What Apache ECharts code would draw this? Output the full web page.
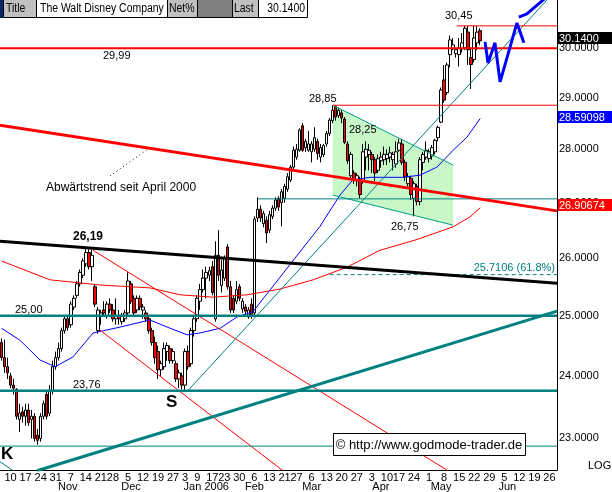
<!DOCTYPE html>
<html>
<head>
<meta charset="utf-8">
<title>The Walt Disney Company</title>
<script src="https://cdn.jsdelivr.net/npm/echarts@6/dist/echarts.min.js"></script>
<style>
html,body{margin:0;padding:0;background:#ffffff;}
#chart{width:612px;height:492px;}
</style>
</head>
<body>
<div id="chart"></div>
<script>
// ---------- categories: trading days ----------
const firstDay = '2005-10-05';
const lastDay = '2006-06-28';
const holidays = ['2005-11-24','2005-12-26','2006-01-02','2006-01-16','2006-02-20','2006-04-14'];

// ---------- candles (OHLC) ----------
const opens = [24.55,24.30,24.15,24.00,23.85,23.78,23.30,23.42,23.35,23.45,23.30,23.35,23.05,23.00,23.35,23.70,23.40,23.75,24.15,24.30,
24.45,24.75,24.95,24.85,25.15,25.35,25.55,25.70,25.90,26.10,25.85,25.50,24.75,25.00,25.10,25.00,25.20,25.10,24.95,25.00,
24.90,24.95,25.05,25.55,25.30,25.10,25.30,25.10,25.05,24.95,24.75,24.55,24.40,24.10,24.15,24.40,24.45,24.25,24.20,23.95,
24.00,23.85,24.40,24.20,24.75,24.95,25.25,25.45,25.65,25.70,25.85,24.95,26.05,25.52,25.65,26.20,25.50,25.30,25.25,25.50,
25.12,25.15,24.98,25.20,25.05,26.72,26.88,26.62,26.68,26.50,26.75,26.90,27.08,27.00,27.08,27.25,27.42,27.66,27.85,27.98,
28.45,28.03,27.98,27.95,28.00,28.15,27.85,27.90,28.10,28.30,28.55,28.82,28.65,28.70,28.58,28.10,27.50,27.55,27.42,27.42,
27.40,27.85,27.90,27.90,27.80,27.60,27.78,27.80,27.82,27.85,27.80,27.72,27.98,28.10,27.75,27.35,27.45,27.08,27.30,27.02,
27.75,27.85,27.82,27.87,27.95,28.22,28.52,29.35,29.10,29.86,29.98,29.88,29.86,29.98,30.00,30.32,29.80,29.76,30.10,30.35];
const highs = [24.62,24.60,24.30,24.05,23.95,23.80,23.55,23.50,23.55,23.55,23.45,23.40,23.15,23.40,23.60,23.75,23.85,24.25,24.40,24.55,
24.80,25.00,25.00,25.25,25.35,25.60,25.80,26.00,26.19,26.19,26.15,25.55,25.15,25.10,25.25,25.25,25.30,25.20,25.30,25.10,
25.05,25.10,25.75,25.60,25.35,25.35,25.35,25.20,25.10,25.00,24.80,24.65,24.50,24.25,24.55,24.55,24.50,24.45,24.25,24.10,
24.05,24.45,24.50,24.80,25.00,25.35,25.55,25.80,25.85,25.85,25.95,26.30,26.50,25.97,26.05,26.25,25.60,25.35,25.60,25.55,
25.30,25.20,25.15,25.30,26.75,27.10,26.95,26.85,26.75,26.85,26.95,27.10,27.12,27.25,27.35,27.55,27.70,28.05,28.10,28.40,
28.50,28.20,28.35,28.15,28.42,28.20,28.10,28.10,28.35,28.60,28.85,28.85,28.80,28.75,28.62,28.15,27.95,27.60,27.55,27.48,
28.10,28.15,28.10,27.95,27.85,27.90,27.95,28.05,28.00,28.05,27.95,28.15,28.20,28.20,27.80,27.55,27.50,27.40,27.35,27.85,
27.95,28.15,28.00,28.08,28.20,28.45,29.20,29.65,29.70,30.25,30.20,30.00,30.20,30.30,30.45,30.45,30.00,30.45,30.45,30.40];
const lows = [24.25,24.05,23.95,23.80,23.70,23.30,23.10,23.25,23.20,23.20,23.00,22.95,22.90,22.95,23.30,23.30,23.35,23.70,24.10,24.25,
24.40,24.70,24.75,24.80,25.10,25.30,25.50,25.65,25.85,25.80,25.60,25.15,24.70,24.85,25.00,24.95,25.05,24.90,24.85,24.85,
24.85,24.90,25.00,25.20,25.00,25.05,25.10,24.95,24.90,24.70,24.50,24.20,23.95,24.00,24.10,24.25,24.20,24.20,23.90,23.80,
23.78,23.76,24.10,24.15,24.65,24.90,25.10,25.40,25.30,25.60,25.35,24.90,25.60,25.40,25.60,25.45,25.05,25.05,25.20,25.25,
25.05,25.00,24.95,24.95,25.00,26.65,26.65,26.55,26.27,26.45,26.70,26.85,26.85,26.57,27.00,27.20,27.38,27.60,27.80,27.95,
27.95,27.95,27.95,27.75,27.95,27.80,27.75,27.85,28.05,28.25,28.50,28.55,28.60,28.50,28.10,27.72,27.45,27.35,27.30,27.08,
27.35,27.60,27.60,27.55,27.40,27.55,27.65,27.70,27.70,27.75,27.60,27.65,27.95,27.70,27.40,27.30,27.05,26.75,26.95,26.95,
27.60,27.80,27.75,27.80,27.90,28.15,28.50,28.90,29.05,29.60,29.95,29.80,29.62,29.90,29.95,29.65,29.17,29.70,29.95,30.05];
const closes = [24.30,24.15,24.05,23.85,23.80,23.35,23.40,23.35,23.45,23.25,23.35,23.00,22.97,23.35,23.55,23.35,23.75,24.15,24.30,24.45,
24.75,24.95,24.80,25.20,25.30,25.55,25.75,25.95,26.10,25.85,26.05,25.20,25.10,25.05,25.05,25.20,25.10,24.95,25.00,24.95,
25.00,25.05,25.60,25.25,25.05,25.30,25.15,25.15,24.95,24.75,24.55,24.30,24.10,24.20,24.45,24.50,24.25,24.40,23.95,24.05,
23.85,24.40,24.15,24.75,24.95,25.30,25.45,25.65,25.75,25.78,25.40,26.05,25.70,25.79,26.00,25.50,25.10,25.10,25.45,25.30,
25.25,25.08,25.10,25.00,26.70,26.88,26.72,26.80,26.45,26.78,26.90,27.05,26.92,27.20,27.30,27.48,27.66,27.98,28.00,28.37,
27.98,28.15,28.10,28.10,28.22,27.92,28.03,28.07,28.30,28.56,28.75,28.62,28.75,28.60,28.13,27.78,27.90,27.42,27.50,27.15,
27.95,28.00,27.98,27.80,27.55,27.82,27.85,27.90,27.90,27.93,27.90,27.95,28.12,27.75,27.48,27.48,27.15,27.35,27.02,27.80,
27.90,27.98,27.95,28.03,28.17,28.42,29.15,28.95,29.65,30.16,30.06,29.96,30.00,30.10,30.40,29.96,29.66,30.20,30.32,30.14];

// ---------- axis tick labels ----------
const yTicks = [23, 24, 25, 26, 27, 28, 29, 30];
const monthLabels = {'2005-11-04':'Nov','2005-12-06':'Dec','2006-01-12':'Jan 2006','2006-02-06':'Feb',
  '2006-03-06':'Mar','2006-04-06':'Apr','2006-05-05':'May','2006-06-06':'Jun'};

// ---------- moving averages: [day index, price] ----------
const maBlue = [[0,24.79],[6.1,24.59],[12.8,24.26],[17.8,24.15],[23.7,24.31],[30.4,24.71],[39.4,24.81],[49.3,24.93],
  [55,24.81],[61.6,24.68],[65.9,24.71],[72.6,24.79],[78.2,24.98],[83.5,25.07],[105.8,26.57],[112.4,27.14],[116.7,27.42],
  [122.4,27.47],[133.3,27.47],[139,27.51],[144.6,27.66],[150,27.98],[154.6,28.23],[159,28.59098]];
const maRed = [[0,25.95],[16.1,25.62],[32.7,25.53],[49.3,25.48],[59.3,25.36],[70.2,25.32],[81.5,25.36],[92.5,25.46],
  [103.5,25.62],[114.7,25.84],[125.7,26.14],[137.3,26.32],[150,26.56],[155.6,26.74],[159,26.90674]];

// ---------- drawn trend lines: [day index, price] ----------
const downTrend2000 = [[-0.5,28.46],[184.5,26.85]];
const blackResistance = [[-0.5,26.30],[184.5,25.56]];
const tealSupport = [[11.8,22.50],[184.5,25.08]];
const tealFromS = [[61.9,23.76],[184.5,31.22]];
const redChannelUpper = [[30.4,26.14],[148.3,22.50]];
const redChannelLower = [[32.7,24.76],[93.5,22.50]];
const tealCorner = [[-0.5,22.64],[4.5,22.48]];
const channelTop = [[110,28.85],[150,27.70]];
const channelBottom = [[110,27.14],[150,26.59]];
const projectionW = [[160.6,30.12],[161.6,29.69],[163.9,30.10],[165.6,29.31],[171.2,30.51],[173.5,30.10]];
const projectionTick = [[171.8,30.63],[174.5,30.70],[181,31.05]];

// ---------- horizontal levels: [price, from index] ----------
const level2999 = [29.99, -0.5];
const level3045 = [30.45, 151.2];
const level2885 = [28.85, 110];
const level2707 = [27.07, 85.2];
const level2500 = [25.00, -0.5];
const level2376 = [23.76, -0.5];
const level2288 = [22.88, -0.5];
const fib618 = [25.7106, 109];

// ---------- build ----------
function buildDates(a, b) {
  const out = [];
  let d = Date.parse(a + 'T00:00:00Z');
  const e = Date.parse(b + 'T00:00:00Z');
  while (d <= e) {
    const dt = new Date(d);
    const dow = dt.getUTCDay();
    const s = dt.toISOString().slice(0, 10);
    if (dow !== 0 && dow !== 6 && holidays.indexOf(s) < 0) out.push(s);
    d += 86400000;
  }
  return out;
}
const dates = buildDates(firstDay, lastDay);
const N = dates.length;
const weekStart = dates.map((s, i) => {
  if (i === 0) return false;
  const cur = Date.parse(s + 'T00:00:00Z'), prev = Date.parse(dates[i - 1] + 'T00:00:00Z');
  const dow = new Date(cur).getUTCDay();
  const monday = cur - ((dow + 6) % 7) * 86400000;
  return prev < monday;
});

const L = Math.log;
const FONT = '"Liberation Sans", Arial, Helvetica, sans-serif';
const candleData = opens.map((o, i) => [L(o), L(closes[i]), L(lows[i]), L(highs[i])]);

function lineS(pts, color, width, dash, z) {
  return {type: 'line', xAxisIndex: 2, yAxisIndex: 0, data: pts.map(p => [p[0], L(p[1])]),
    symbol: 'none', silent: true, animation: false, z: z || 3, clip: true,
    lineStyle: {color: color, width: width, type: dash || 'solid', cap: 'butt'}};
}
function levelS(lv, color, width, dash) {
  return lineS([[lv[1], lv[0]], [N - 0.5, lv[0]]], color, width, dash);
}

const TEAL = '#008080';
const series = [
  {type: 'custom', xAxisIndex: 2, yAxisIndex: 0, silent: true, z: 1, data: [[110, L(28)]],
    renderItem: function (params, api) {
      const pts = [channelTop[0], channelTop[1], channelBottom[1], channelBottom[0]].map(p => api.coord([p[0], L(p[1])]));
      return {type: 'polygon', shape: {points: pts}, style: {fill: '#c8f8c8', stroke: null}};
    }},
  {type: 'candlestick', xAxisIndex: 0, yAxisIndex: 0, data: candleData, barWidth: 3, z: 2, silent: true,
    itemStyle: {color: '#ffffff', color0: '#ff0000', borderColor: '#000000', borderColor0: '#000000', borderWidth: 1}},
  lineS(maRed, '#ff0000', 1),
  lineS(maBlue, '#0000ff', 1),
  lineS(channelTop, '#00a080', 1),
  lineS(channelBottom, '#00a080', 1),
  lineS(redChannelUpper, '#ff0000', 1),
  lineS(redChannelLower, '#ff0000', 1),
  lineS(tealFromS, TEAL, 1),
  lineS(tealCorner, TEAL, 1),
  levelS(level3045, '#ff0000', 1),
  levelS(level2885, '#ff0000', 1),
  levelS(level2707, TEAL, 1),
  levelS(level2288, TEAL, 1),
  levelS(fib618, TEAL, 1, [4, 3]),
  levelS(level2999, '#ff0000', 2),
  levelS(level2500, TEAL, 2.5),
  levelS(level2376, TEAL, 2.5),
  lineS(tealSupport, TEAL, 3),
  lineS(blackResistance, '#000000', 3),
  lineS(downTrend2000, '#ff0000', 3),
  lineS(projectionW, '#0000ff', 3, null, 4),
  lineS(projectionTick, '#0000ff', 3, null, 4)
];

function txt(x, y, s, o, sx) {
  const st = Object.assign({text: s, fill: '#000', font: '11px ' + FONT, align: 'left', verticalAlign: 'middle',
    textAlign: 'left', textVerticalAlign: 'middle'}, o || {});
  if (st.align) st.textAlign = st.align;
  const el = {type: 'text', x: x, y: y, z: 100, silent: true, style: st};
  if (sx) el.scaleX = sx;
  return el;
}
function rect(x, y, w, h, fill, stroke) {
  return {type: 'rect', z: 99, silent: true, shape: {x: x, y: y, width: w, height: h},
    style: {fill: fill, stroke: stroke || null, lineWidth: 1}};
}

const headerCells = [
  [3, 33, '#c0c0c0', 'Title', 'left', 6],
  [36, 131, '#ffffff', 'The Walt Disney Company', 'left', 40],
  [167, 30, '#c0c0c0', 'Net%', 'left', 169],
  [197, 35, '#808080', '', 'left', 0],
  [232, 26, '#c0c0c0', 'Last', 'left', 234],
  [258, 49, '#ffffff', '30.1400', 'right', 305]
];
const graphics = [rect(0, 0, 3, 18, '#0a246a')];
headerCells.forEach(c => {
  graphics.push(rect(c[0] + 0.5, -0.5, c[1], 18, c[2], '#000'));
  if (c[3]) graphics.push(txt(c[5], 9, c[3], {font: '12px ' + FONT, align: c[4]}, 0.87));
});
// value badges on the price scale
graphics.push(rect(558, 32, 54, 12, '#000000'), txt(559, 38.5, '30.1400', {fill: '#fff'}));
graphics.push(rect(558, 111, 54, 12, '#0000ff'), txt(559, 117.5, '28.59098', {fill: '#fff'}));
graphics.push(rect(558, 199, 54, 12, '#ff0000'), txt(559, 205.5, '26.90674', {fill: '#fff'}));
// annotations
graphics.push(
  txt(103, 56, '29,99'),
  txt(445, 16, '30,45'),
  txt(309, 99, '28,85'),
  txt(349, 130, '28,25'),
  txt(391, 227, '26,75'),
  txt(73, 237, '26,19', {font: 'bold 12px ' + FONT}),
  txt(15, 310, '25,00'),
  txt(73, 385, '23,76'),
  txt(166, 402, 'S', {font: 'bold 17px ' + FONT}),
  txt(1, 454, 'K', {font: 'bold 17px ' + FONT}),
  txt(46, 188, 'Abwärtstrend seit April 2000', {font: '12px ' + FONT}),
  txt(555, 268, '25.7106 (61.8%)', {fill: TEAL, align: 'right'}),
  {type: 'polyline', z: 100, silent: true, shape: {points: [[110, 176], [148, 149]]},
    style: {stroke: '#000', lineWidth: 1, lineDash: [1, 3], fill: null}},
  rect(333.5, 433.5, 192, 22, '#ffffff', '#000000'),
  txt(429, 445, '\u00A9 http://www.godmode-trader.de', {font: '13px ' + FONT, align: 'center'}),
  txt(588, 466, 'LOG')
);

const chart = echarts.init(document.getElementById('chart'), null, {renderer: 'canvas'});
chart.setOption({
  animation: false,
  backgroundColor: '#ffffff',
  grid: {left: 0, right: 55, top: 0, bottom: 22, containLabel: false, outerBoundsMode: 'none', show: false},
  xAxis: [
    {type: 'category', data: dates, position: 'bottom', boundaryGap: true,
      axisLine: {show: true, onZero: false, lineStyle: {color: '#000', width: 1}},
      axisTick: {show: false}, splitLine: {show: false},
      axisLabel: {interval: (i) => weekStart[i], formatter: (v) => String(Number(v.slice(8, 10))),
        margin: 2, fontSize: 11, color: '#000', fontFamily: FONT}},
    {type: 'category', data: dates, position: 'bottom', boundaryGap: true,
      axisLine: {show: false, onZero: false}, axisTick: {show: false}, splitLine: {show: false},
      axisLabel: {interval: (i, v) => !!monthLabels[v], formatter: (v) => monthLabels[v] || '',
        margin: 11, fontSize: 11, color: '#000', fontFamily: FONT}},
    {type: 'value', position: 'top', min: -0.5, max: N - 0.5, show: false}
  ],
  yAxis: [{type: 'value', position: 'right', min: L(22.512), max: L(30.99),
    axisLine: {show: true, onZero: false, lineStyle: {color: '#000', width: 1}},
    axisTick: {show: false}, splitLine: {show: false},
    axisLabel: {customValues: yTicks.map(L), formatter: (v) => Math.exp(v).toFixed(4),
      margin: 2, fontSize: 11, color: '#000', fontFamily: FONT}}],
  series: series,
  graphic: {elements: graphics}
});
</script>
</body>
</html>
